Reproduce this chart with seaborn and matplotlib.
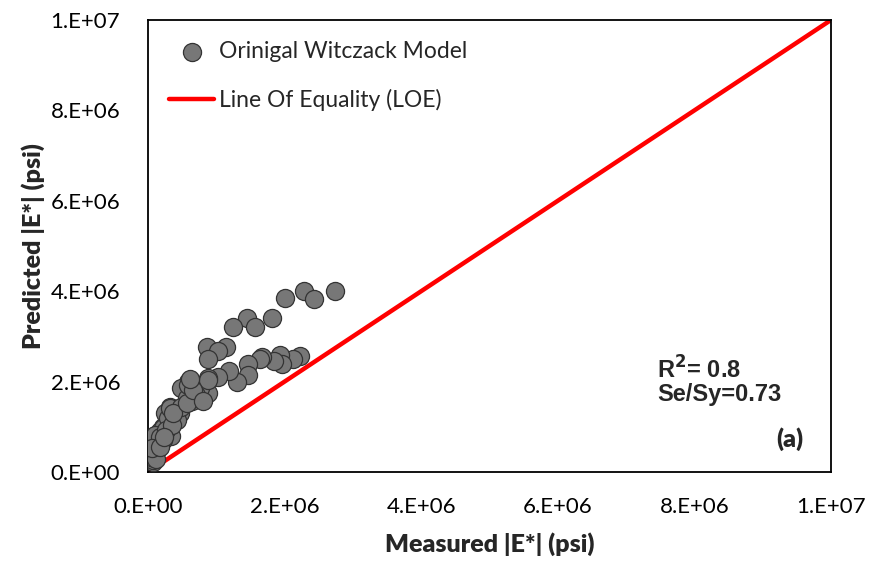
import numpy as np
import pandas as pd
import matplotlib
matplotlib.use("Agg")
import matplotlib.pyplot as plt
from matplotlib.ticker import FuncFormatter, MultipleLocator
import seaborn as sns

# measured vs predicted |E*| (psi)
measured = [2.74e6, 2.29e6, 2.43e6, 2.01e6, 1.81e6, 1.45e6, 1.57e6, 1.24e6,
            0.86e6, 1.14e6, 1.02e6, 0.875e6,
            2.23e6, 2.12e6, 1.94e6, 1.96e6, 1.84e6, 1.67e6, 1.64e6, 1.46e6,
            1.47e6, 1.30e6, 1.19e6, 1.03e6, 0.88e6, 0.88e6, 0.76e6, 0.69e6,
            0.59e6, 0.49e6, 0.57e6, 0.64e6, 0.42e6, 0.32e6, 0.30e6, 0.22e6,
            0.20e6, 0.15e6, 0.13e6, 0.08e6, 0.08e6, 0.25e6, 0.37e6, 0.18e6,
            0.26e6, 0.33e6, 0.22e6, 0.05e6,
            0.08e6, 0.10e6, 0.15e6, 0.22e6, 0.30e6, 0.32e6, 0.47e6, 0.42e6,
            0.49e6, 0.59e6, 0.71e6, 0.88e6, 0.10e6, 0.18e6, 0.27e6, 0.35e6,
            0.37e6, 0.57e6, 0.66e6, 0.81e6, 0.04e6, 0.12e6, 0.06e6, 0.18e6,
            0.23e6, 0.62e6]
predicted = [4.01e6, 4.01e6, 3.82e6, 3.84e6, 3.40e6, 3.40e6, 3.20e6, 3.20e6,
             2.77e6, 2.77e6, 2.68e6, 2.49e6,
             2.57e6, 2.49e6, 2.59e6, 2.38e6, 2.46e6, 2.54e6, 2.49e6, 2.40e6,
             2.15e6, 2.00e6, 2.23e6, 2.11e6, 2.07e6, 1.74e6, 1.85e6, 1.70e6,
             2.00e6, 1.85e6, 1.63e6, 1.56e6, 1.37e6, 1.44e6, 1.22e6, 1.00e6,
             0.78e6, 0.63e6, 0.49e6, 0.41e6, 0.23e6, 1.30e6, 1.15e6, 0.90e6,
             0.90e6, 0.80e6, 0.70e6, 0.33e6,
             0.27e6, 0.45e6, 0.67e6, 0.97e6, 1.19e6, 1.41e6, 1.30e6, 1.15e6,
             1.44e6, 1.92e6, 1.70e6, 2.04e6, 0.82e6, 0.78e6, 0.93e6, 1.04e6,
             1.30e6, 1.52e6, 1.81e6, 1.56e6, 0.34e6, 0.28e6, 0.52e6, 0.55e6,
             0.78e6, 2.05e6]
loe = [0, 1e7]

sns.set_style("white")
plt.rcParams['font.family'] = ['Lato', 'DejaVu Sans']

df = pd.DataFrame({"measured": measured, "predicted": predicted})
line_df = pd.DataFrame({"x": loe, "y": loe})

fig = plt.figure(figsize=(8.75, 5.65), dpi=100)
ax = fig.add_axes([0.1691, 0.1646, 0.7806, 0.8])

sns.lineplot(data=line_df, x="x", y="y", ax=ax, color="#ff0000", lw=3.2,
             label="Line Of Equality (LOE)", zorder=2)
sns.scatterplot(data=df, x="measured", y="predicted", ax=ax, s=170,
                color="#777777", edgecolor="#333333", linewidth=0.9,
                label="Orinigal Witczack Model", zorder=3)

ax.set_xlim(0, 1e7)
ax.set_ylim(0, 1e7)
ax.xaxis.set_major_locator(MultipleLocator(2e6))
ax.yaxis.set_major_locator(MultipleLocator(2e6))
fmt = FuncFormatter(lambda v, p: "{:#.0E}".format(v))
ax.xaxis.set_major_formatter(fmt)
ax.yaxis.set_major_formatter(fmt)
ax.tick_params(direction="in", length=6, width=1, labelsize=16, colors="black")
ax.tick_params(axis="x", pad=18)
ax.tick_params(axis="y", pad=20)
for sp in ax.spines.values():
    sp.set_color("black")
    sp.set_linewidth(1.3)

ax.set_xlabel("Measured |E*| (psi)", fontsize=18, fontweight="heavy", labelpad=11)
ax.set_ylabel("Predicted |E*| (psi)", fontsize=18, fontweight="heavy", labelpad=4)

h, l = ax.get_legend_handles_labels()
ax.legend(h[::-1], l[::-1], loc="upper left", frameon=False, fontsize=16.5,
          bbox_to_anchor=(0.0, 1.0), handlelength=2.0, labelspacing=1.2,
          handletextpad=0.2)

ax.text(0.745, 0.207, "R$^\\mathbf{2}$= 0.8", transform=ax.transAxes,
        fontsize=17, fontweight="bold", family="Liberation Sans", va="baseline")
ax.text(0.745, 0.158, "Se/Sy=0.73", transform=ax.transAxes,
        fontsize=17, fontweight="bold", family="Liberation Sans", va="baseline")
ax.text(0.92, 0.055, "(a)", transform=ax.transAxes, fontsize=18,
        fontweight="heavy")

fig.savefig("out.png", dpi=100)
